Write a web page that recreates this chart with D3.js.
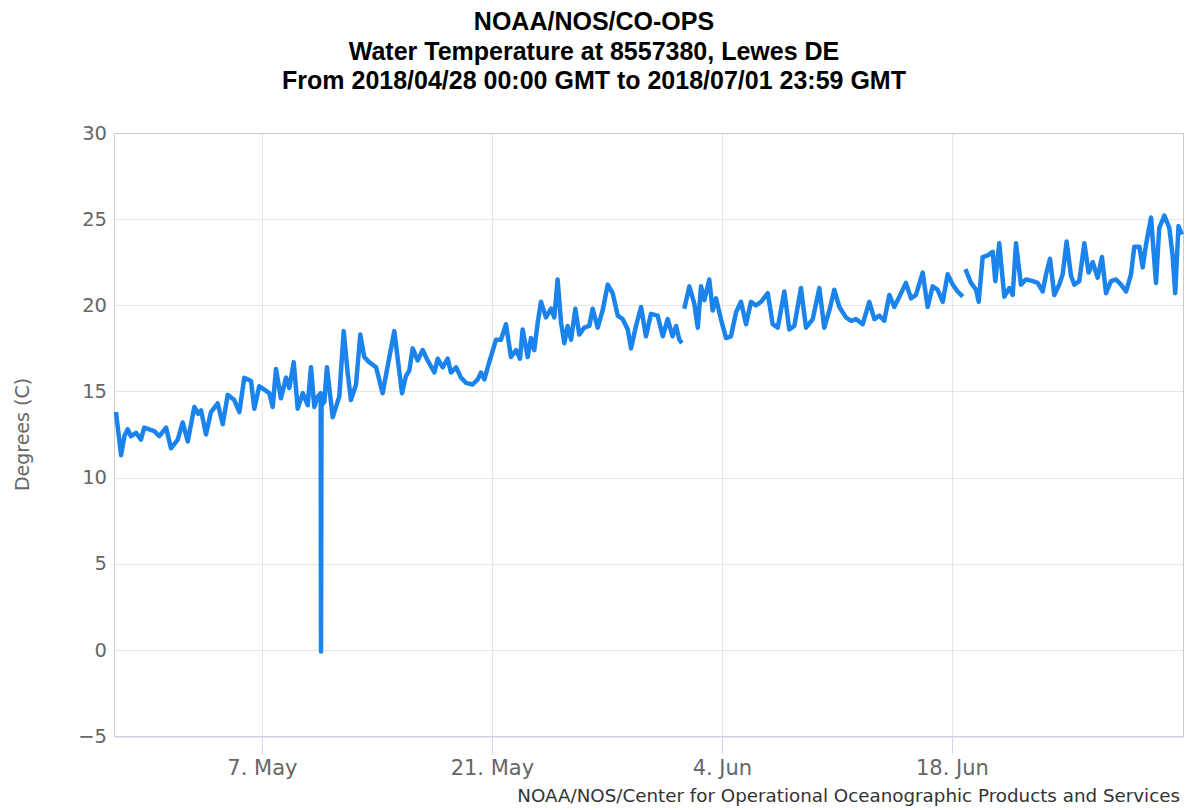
<!DOCTYPE html>
<html>
<head>
<meta charset="utf-8">
<script src="https://cdn.jsdelivr.net/npm/d3@7"></script>
<style>
  body { margin: 0; background: #fff; }
  svg { display: block; }
</style>
</head>
<body>
<svg id="chart" width="1190" height="810"></svg>
<script>
// chart texts
const titleLines = [
  "NOAA/NOS/CO-OPS",
  "Water Temperature at 8557380, Lewes DE",
  "From 2018/04/28 00:00 GMT to 2018/07/01 23:59 GMT"
];
const yAxisTitle = "Degrees (C)";
const creditText = "NOAA/NOS/Center for Operational Oceanographic Products and Services";

// time range of the x axis
const startTime = "2018-04-28T00:00:00Z";
const endTime = "2018-07-02T03:00:00Z";

// tick values
const yTicks = [-5, 0, 5, 10, 15, 20, 25, 30];
const xTickDates = ["2018-05-07", "2018-05-21", "2018-06-04", "2018-06-18"];

// observations: days since startTime, water temperature in C (null = no data)
const dayOffset = [
  0.12, 0.43, 0.63, 0.83, 1.03, 1.34, 1.64, 1.84, 2.45, 2.76, 3.17, 3.47, 3.88, 4.18, 4.49, 4.89,
  5.13, 5.30, 5.60, 5.90, 6.31, 6.62, 6.92, 7.32, 7.63, 7.93, 8.34, 8.54, 8.84, 9.15, 9.45, 9.66,
  9.86, 10.16, 10.47, 10.67, 10.94, 11.18, 11.49, 11.79, 11.99, 12.19, 12.40, 12.58, 12.60, 12.63,
  12.80, 12.96, 13.31, 13.71, 13.98, 14.22, 14.42, 14.73, 14.99, 15.23, 15.53,
  15.95, 16.35, 16.76, 17.06, 17.36, 17.53, 17.77, 17.97, 18.18, 18.48, 18.79, 19.09, 19.50, 19.70,
  20.01, 20.31, 20.51, 20.82, 21.12, 21.42, 21.83, 22.14, 22.34, 22.54, 22.84, 23.25, 23.55, 23.86,
  24.16, 24.47, 24.71, 24.87, 25.18, 25.38, 25.58, 25.79, 25.99, 26.29, 26.60, 26.80, 27.00, 27.21,
  27.41, 27.61, 27.82, 28.08, 28.32, 28.62, 28.93, 29.13, 29.44, 29.74, 30.05, 30.35, 30.66, 30.96,
  31.27, 31.47, 31.77,
  32.08, 32.38, 32.68, 33.09, 33.40, 33.70, 34.00, 34.21, 34.41, 34.57, 34.64, 34.71, 35.02, 35.32,
  35.53, 35.73, 35.93, 36.23, 36.44, 36.64, 36.94, 37.25, 37.55, 37.86, 38.16, 38.47, 38.77, 39.07,
  39.38, 39.79, 40.09, 40.40, 40.80, 41.10, 41.41, 41.81, 42.12, 42.53, 42.93, 43.23, 43.54, 43.84,
  44.15, 44.55, 44.86, 45.16, 45.57, 45.97, 46.28, 46.58, 46.88, 47.19, 47.49, 47.80,
  48.20, 48.51, 48.81, 49.22, 49.52, 49.83, 50.13, 50.44, 50.74, 51.05, 51.35, 51.66, 51.74, 51.82,
  52.16, 52.47, 52.63, 52.87, 53.18, 53.48, 53.64, 53.88, 54.19, 54.49, 54.70, 54.90, 55.20, 55.51,
  55.92, 56.22, 56.52, 56.73, 56.97, 57.23, 57.53, 57.74, 57.98, 58.25, 58.45, 58.75, 59.06, 59.32,
  59.57, 59.87, 60.13, 60.38, 60.68, 60.99, 61.29, 61.60, 61.90, 62.10, 62.41, 62.61, 62.81, 63.12,
  63.42, 63.62, 63.93, 64.23, 64.43, 64.59, 64.79, 64.99
];
const tempC = [
  13.8, 11.3, 12.4, 12.8, 12.4, 12.6, 12.2, 12.9, 12.7, 12.4, 12.9, 11.7, 12.2, 13.2, 12.1, 14.1,
  13.7, 13.9, 12.5, 13.8, 14.3, 13.1, 14.8, 14.5, 13.8, 15.8, 15.6, 14.0, 15.3, 15.1, 14.9, 14.1,
  16.3, 14.6, 15.8, 15.2, 16.7, 14.0, 14.9, 14.2, 16.4, 14.1, 14.7, 14.9, -0.1, 14.2,
  14.4, 16.4, 13.5, 14.7, 18.5, 16.1, 14.5, 15.4, 18.3, 17.0, 16.7,
  16.4, 14.9, 17.0, 18.5, 16.2, 14.9, 15.9, 16.2, 17.5, 16.8, 17.4, 16.8, 16.1, 16.9,
  16.4, 16.9, 16.1, 16.4, 15.8, 15.5, 15.4, 15.7, 16.1, 15.7, 16.7, 18.0, 18.0, 18.9,
  17.0, 17.4, 16.9, 18.6, 17.0, 18.1, 17.4, 19.0, 20.2, 19.3, 19.8, 19.3, 21.5, 19.0,
  17.8, 18.8, 18.0, 19.8, 18.3, 18.7, 18.8, 19.8, 18.7, 19.7, 21.2, 20.7, 19.4, 19.2,
  18.6, 17.5, 18.8,
  19.9, 18.2, 19.5, 19.4, 18.2, 19.2, 18.2, 18.8, 18.0, 17.8, null, 19.8, 21.1, 20.1,
  18.7, 21.1, 20.3, 21.5, 19.7, 20.4, 19.2, 18.1, 18.2, 19.6, 20.2, 18.9, 20.2, 20.0,
  20.2, 20.7, 18.9, 18.7, 20.8, 18.6, 18.8, 21.0, 18.7, 19.2, 21.0, 18.7, 19.7, 20.9,
  19.9, 19.3, 19.1, 19.2, 18.9, 20.2, 19.2, 19.4, 19.1, 20.6, 19.9, 20.5,
  21.3, 20.4, 20.6, 21.9, 19.9, 21.1, 20.9, 20.2, 21.8, 21.2, 20.8, 20.5, null, 22.1,
  21.3, 20.9, 20.2, 22.8, 22.9, 23.1, 21.4, 23.6, 20.5, 21.0, 20.6, 23.6, 21.2, 21.5,
  21.4, 21.3, 20.8, 21.8, 22.7, 20.6, 21.2, 21.8, 23.7, 21.7, 21.2, 21.4, 23.6, 21.9,
  22.5, 21.6, 22.8, 20.7, 21.4, 21.5, 21.2, 20.8, 21.8, 23.4, 23.4, 22.2, 23.5, 25.1,
  21.3, 24.5, 25.2, 24.5, 22.9, 20.7, 24.6, 24.1
];

const width = 1190;
const height = 810;
const margin = { top: 133, right: 6, bottom: 74, left: 114 };

const svg = d3.select("#chart");
const t0 = new Date(startTime);
const dayMs = 24 * 3600 * 1000;

const series = dayOffset.map((d, i) => ({
  time: new Date(t0.getTime() + d * dayMs),
  value: tempC[i]
}));

const x = d3.scaleUtc()
  .domain([t0, new Date(endTime)])
  .range([margin.left, width - margin.right]);

const y = d3.scaleLinear()
  .domain([-5, 30])
  .range([height - margin.bottom, margin.top]);

const labelFont = "DejaVu Sans, sans-serif";

// background
svg.append("rect").attr("width", width).attr("height", height).attr("fill", "#fff");

// horizontal grid lines
svg.append("g")
  .selectAll("line")
  .data(yTicks)
  .join("line")
  .attr("x1", margin.left)
  .attr("x2", width - margin.right)
  .attr("y1", (d) => Math.round(y(d)) + 0.5)
  .attr("y2", (d) => Math.round(y(d)) + 0.5)
  .attr("stroke", "#e6e6e6");

// vertical grid lines
const xTicks = xTickDates.map((d) => new Date(d + "T00:00:00Z"));
svg.append("g")
  .selectAll("line")
  .data(xTicks)
  .join("line")
  .attr("x1", (d) => Math.round(x(d)) + 0.5)
  .attr("x2", (d) => Math.round(x(d)) + 0.5)
  .attr("y1", margin.top)
  .attr("y2", height - margin.bottom)
  .attr("stroke", "#e6e6e6");

// plot border
svg.append("rect")
  .attr("x", margin.left + 0.5)
  .attr("y", margin.top + 0.5)
  .attr("width", width - margin.left - margin.right - 1)
  .attr("height", height - margin.top - margin.bottom)
  .attr("fill", "none")
  .attr("stroke", "#cccccc");

// x axis
const xAxis = svg.append("g")
  .attr("transform", "translate(0," + (height - margin.bottom + 0.5) + ")")
  .call(
    d3.axisBottom(x)
      .tickValues(xTicks)
      .tickFormat(d3.utcFormat("%-d. %b"))
      .tickSize(18)
      .tickSizeOuter(0)
      .tickPadding(6)
  );
xAxis.select(".domain").attr("stroke", "#ccd6eb");
xAxis.selectAll(".tick line").attr("stroke", "#ccd6eb");
xAxis.selectAll(".tick text")
  .attr("fill", "#666")
  .style("font-family", labelFont)
  .style("font-size", "21px");

// y axis labels
const yAxis = svg.append("g")
  .attr("transform", "translate(" + margin.left + ",0)")
  .call(d3.axisLeft(y).tickValues(yTicks).tickSize(0).tickPadding(7).tickFormat((d) => d < 0 ? "\u2212" + Math.abs(d) : d));
yAxis.select(".domain").remove();
yAxis.selectAll(".tick text")
  .attr("fill", "#666")
  .style("font-family", labelFont)
  .style("font-size", "19.5px");

// y axis title
svg.append("text")
  .attr("transform", "translate(29," + (margin.top + (height - margin.top - margin.bottom) / 2) + ") rotate(-90)")
  .attr("text-anchor", "middle")
  .attr("fill", "#666")
  .style("font-family", labelFont)
  .style("font-size", "19px")
  .text(yAxisTitle);

// temperature line
const line = d3.line()
  .defined((d) => d.value !== null)
  .x((d) => x(d.time))
  .y((d) => y(d.value));

svg.append("path")
  .datum(series)
  .attr("fill", "none")
  .attr("stroke", "#1a84ec")
  .attr("stroke-width", 4.5)
  .attr("stroke-linejoin", "round")
  .attr("d", line);

// title
svg.append("g")
  .selectAll("text")
  .data(titleLines)
  .join("text")
  .attr("x", 594)
  .attr("y", (d, i) => 30 + i * 29.5)
  .attr("text-anchor", "middle")
  .attr("fill", "#000")
  .style("font-family", "Liberation Sans, Arial, sans-serif")
  .style("font-weight", "bold")
  .style("font-size", "25px")
  .text((d) => d);

// credits
svg.append("text")
  .attr("x", 1180)
  .attr("y", 802)
  .attr("text-anchor", "end")
  .attr("fill", "#333")
  .style("font-family", labelFont)
  .style("font-size", "18.3px")
  .text(creditText);
</script>
</body>
</html>
